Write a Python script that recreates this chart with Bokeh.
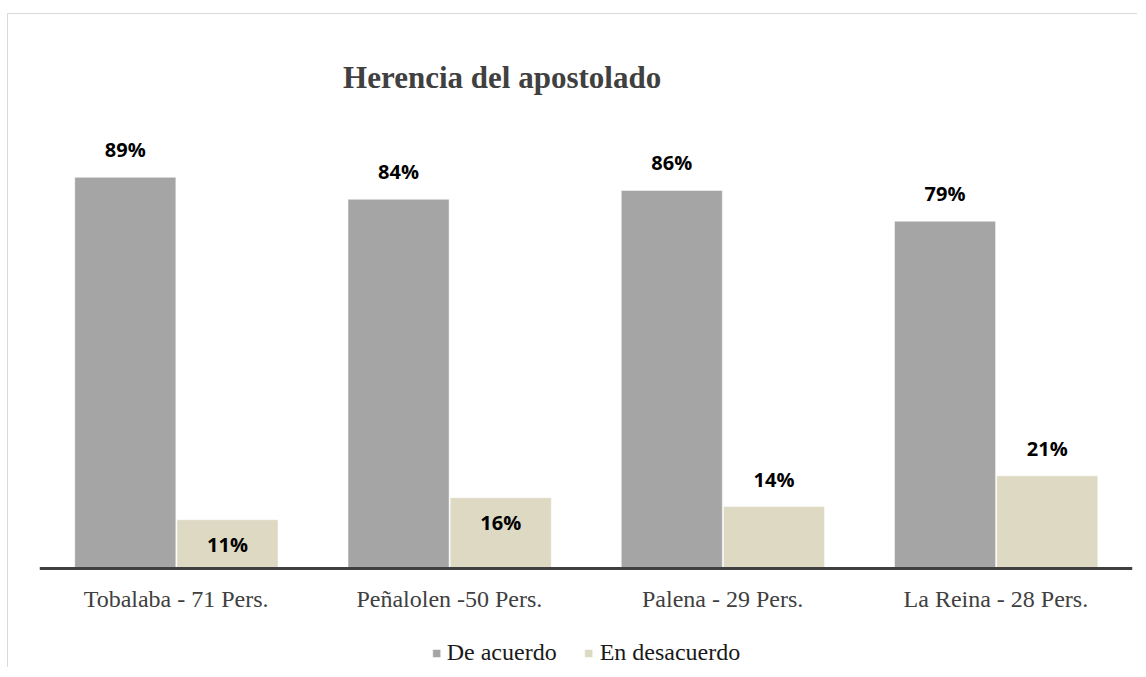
from bokeh.plotting import figure
from bokeh.models import ColumnDataSource, FactorRange, Legend, LegendItem, Label
from bokeh.transform import dodge
from bokeh.embed import file_html
from bokeh.resources import INLINE
from bokeh.core.properties import value

categories = ["Tobalaba - 71 Pers.", "Peñalolen -50 Pers.", "Palena - 29 Pers.", "La Reina - 28 Pers."]
de_acuerdo = [89, 84, 86, 79]
en_desacuerdo = [11, 16, 14, 21]
series_names = ["De acuerdo", "En desacuerdo"]
title_text = "Herencia del apostolado"

GRAY = "#a5a5a5"
BEIGE = "#ddd9c3"

px_per_unit = 4.39
base_px = 567.5
y_top = (base_px - 14) / px_per_unit
y_bottom = (base_px - 668) / px_per_unit

p = figure(x_range=FactorRange(*categories), y_range=(y_bottom, y_top),
           width=1130, height=654, output_backend="svg", toolbar_location=None,
           min_border_left=31, min_border_right=6, min_border_top=0, min_border_bottom=0)
p.styles = {"border-top": "1px solid #d9d9d9", "border-left": "1px solid #d9d9d9",
            "margin-top": "13px", "margin-left": "7px"}
p.outline_line_color = None
p.xgrid.visible = False
p.ygrid.visible = False
p.yaxis.visible = False
p.background_fill_color = "white"
p.border_fill_color = "white"

src = ColumnDataSource(dict(cat=categories, a=de_acuerdo, b=en_desacuerdo,
                            a_lbl=[f"{v}%" for v in de_acuerdo],
                            b_lbl=[f"{v}%" for v in en_desacuerdo]))

r1 = p.vbar(x=dodge("cat", -0.186, range=p.x_range), top="a", bottom=0, width=0.37, source=src,
            fill_color=GRAY, line_color="white", line_alpha=0.5, line_width=1)
r2 = p.vbar(x=dodge("cat", 0.188, range=p.x_range), top="b", bottom=0, width=0.37, source=src,
            fill_color=BEIGE, line_color="white", line_alpha=0.5, line_width=1)

# value labels: gray all outside end; beige: the two that fit inside are drawn inside
lab_font = value("Open Sans")
p.text(x=dodge("cat", -0.186, range=p.x_range), y="a", text="a_lbl", source=src,
       text_font=lab_font, text_font_style="bold", text_font_size="20px",
       text_align="center", text_baseline="middle", y_offset=-28, text_color="#000000")
inside = [True, True, False, False]
src.data["b_off"] = [25 if ins else -27 for ins in inside]
p.text(x=dodge("cat", 0.188, range=p.x_range), y="b", text="b_lbl", source=src,
       text_font=lab_font, text_font_style="bold", text_font_size="20px",
       text_align="center", text_baseline="middle", y_offset="b_off", text_color="#000000")

p.xaxis.fixed_location = 0
p.xaxis.axis_line_color = "#404040"
p.xaxis.axis_line_width = 3
p.xaxis.major_tick_line_color = None
p.xaxis.minor_tick_line_color = None
p.xaxis.major_label_text_font = "Liberation Serif"
p.xaxis.major_label_text_font_size = "24px"
p.xaxis.major_label_text_color = "#404040"
p.xaxis.major_label_standoff = 12

p.add_layout(Label(x=1.693, y=(base_px - 77) / px_per_unit, text=title_text,
                   text_font="Liberation Serif", text_font_style="bold", text_font_size="31px",
                   text_color="#404040", text_align="center", text_baseline="middle"))

legend = Legend(items=[LegendItem(label=series_names[0], renderers=[r1]),
                       LegendItem(label=series_names[1], renderers=[r2])],
                orientation="horizontal", location="bottom_center",
                label_text_font="Liberation Serif", label_text_font_size="24px",
                label_text_color="#1a1a1a", glyph_width=10, glyph_height=10,
                spacing=27, label_standoff=6, border_line_color=None,
                background_fill_alpha=0, margin=2, padding=2)
p.add_layout(legend)

open("out.html", "w").write(file_html(p, INLINE))
